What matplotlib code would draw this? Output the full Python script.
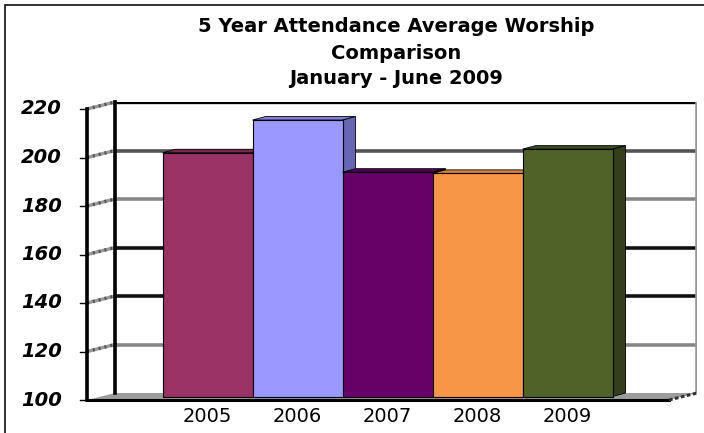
import matplotlib
matplotlib.use('Agg')
import matplotlib.pyplot as plt
from matplotlib.patches import Polygon, Rectangle
import numpy as np

# data
years = ['2005', '2006', '2007', '2008', '2009']
attendance = [200.5, 214, 192.5, 192, 202]
yticks = [100, 120, 140, 160, 180, 200, 220]
title_lines = ['5 Year Attendance Average Worship', 'Comparison', 'January - June 2009']

front_colors = ['#993366', '#9999FF', '#660066', '#F79646', '#4F6228']
side_colors = ['#6B2347', '#6666B3', '#440044', '#B86A2C', '#333F1A']
top_colors = ['#7A2850', '#8080D8', '#520052', '#D9803A', '#3E4D1F']
grid_colors = ['#888888', '#111111', '#111111', '#888888', '#555555']

W, H, dpi = 704, 433, 100
fig = plt.figure(figsize=(W / dpi, H / dpi), dpi=dpi)

# back wall in pixel box
L, R, T, B = 115, 697, 102, 393
ax = fig.add_axes([L / W, 1 - B / H, (R - L) / W, (B - T) / H])
xmin, xmax = (L - 220.5) / 90, (R - 220.5) / 90
ax.set_xlim(xmin, xmax)
ax.set_ylim(100, 220)
ax.set_axis_off()

sx = (xmax - xmin) / (R - L)
sy = 120 / (B - T)


def shift(x, y, px, py):
    # move a point by pixels (right, down) to fake depth
    return x + px * sx, y - py * sy


depth = (-28, 7)      # front edge of floor / side wall
bar_depth = (-13, 3.5)

# back wall
ax.add_patch(Rectangle((xmin, 100), xmax - xmin, 120, fc='white', ec='none', zorder=0))
for v, c in zip(yticks[1:-1], grid_colors):
    ax.plot([xmin, xmax], [v, v], color=c, lw=2.6, solid_capstyle='butt', zorder=1)
ax.plot([xmin, xmax], [220, 220], color='black', lw=2.4, solid_capstyle='butt', zorder=1)
ax.plot([xmax, xmax], [100, 220], color='#999999', lw=2.6, zorder=1)
ax.plot([xmax, xmax], [100, 220], color='#333333', lw=0.8, zorder=1)

# side wall diagonals
for v in yticks[1:]:
    fx, fy = shift(xmin, v, *depth)
    ax.plot([fx, xmin], [fy, v], color='#9a9a9a', lw=2.4, zorder=1, clip_on=False)
    ax.plot([fx, xmin], [fy, v], color='#555555', lw=2.4, ls=(0, (0.6, 1.2)),
            zorder=1, clip_on=False)
ax.plot([xmin, xmin], [100, 220], color='black', lw=2.6, zorder=2, clip_on=False)

# floor
fl = shift(xmin, 100, *depth)
fr = shift(xmax, 100, *depth)
ax.add_patch(Polygon([(xmin, 100), (xmax, 100), fr, fl], closed=True,
                     fc='#9c9c9c', ec='none', zorder=1, clip_on=False))
ax.plot([fl[0], fr[0]], [fl[1], fr[1]], color='black', lw=2.2, zorder=2, clip_on=False)
ax.plot([fr[0], xmax], [fr[1], 100], color='#333333', lw=2.2, ls=(0, (1.2, 0.8)),
        zorder=2, clip_on=False)

# front value axis
top = shift(xmin, 220, *depth)
ax.plot([fl[0], top[0]], [fl[1], top[1]], color='black', lw=2.6, zorder=3, clip_on=False)
for v in yticks:
    px, py = shift(xmin, v, *depth)
    tx, _ = shift(px, v, -7, 0)
    ax.plot([tx, px], [py, py], color='black', lw=1, clip_on=False)
    lx, _ = shift(px, v, -25, 0)
    ax.text(lx, py, str(v), ha='right', va='center', fontsize=14,
            fontweight='bold', fontstyle='italic', color='black')

# bars
x = np.arange(len(years))
fdx, fdy = bar_depth[0] * sx, -bar_depth[1] * sy
heights = np.array(attendance) - 100
bars = ax.bar(x + fdx, heights, bottom=100 + fdy, width=1.0, color=front_colors,
              edgecolor='black', linewidth=0.8, clip_on=False)
for i, b in enumerate(bars):
    b.set_zorder(5 + 2 * i)
    x0 = x[i] - 0.5 + fdx
    x1 = x[i] + 0.5 + fdx
    y0 = 100 + fdy
    y1 = attendance[i] + fdy
    bx, by = -fdx, -fdy
    ax.add_patch(Polygon([(x0, y1), (x1, y1), (x1 + bx, y1 + by), (x0 + bx, y1 + by)],
                         closed=True, fc=top_colors[i], ec='black', lw=0.6,
                         zorder=4 + 2 * i, clip_on=False))
    ax.add_patch(Polygon([(x1, y1), (x1 + bx, y1 + by), (x1 + bx, y0 + by), (x1, y0)],
                         closed=True, fc=side_colors[i], ec='black', lw=0.6,
                         zorder=4 + 2 * i, clip_on=False))

# category labels
for i, yr in enumerate(years):
    lx, ly = shift(x[i] + fdx, 100 + fdy, 0, 10)
    ax.text(lx, ly, yr, ha='center', va='top', fontsize=14, color='black')

# title
for line, base in zip(title_lines, [32, 59, 84]):
    fig.text(396 / W, 1 - base / H, line, ha='center', va='baseline',
             fontsize=14, fontweight='bold')

# chart border (only left/top visible in the crop)
fig.add_artist(Rectangle((5 / W, -1), 2, 2 - 5 / H, transform=fig.transFigure,
                         fill=False, ec='#222222', lw=1.3))

fig.savefig('out.png', dpi=dpi)
